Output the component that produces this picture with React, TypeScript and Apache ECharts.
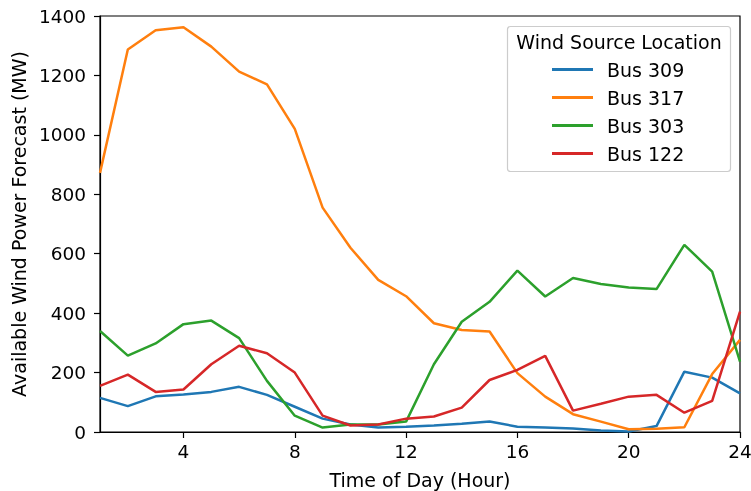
import React, { useEffect, useRef } from "react";
import * as echarts from "echarts";

const hours = [1, 2, 3, 4, 5, 6, 7, 8, 9, 10, 11, 12, 13, 14, 15, 16, 17, 18, 19, 20, 21, 22, 23, 24];
const bus309 = [115, 87, 120, 126, 135, 152, 125, 85, 45, 25, 15, 18, 22, 28, 35, 18, 15, 12, 5, 2, 20, 203, 183, 130];
const bus317 = [872, 1287, 1352, 1362, 1297, 1213, 1170, 1020, 755, 620, 512, 457, 366, 343, 338, 198, 119, 60, 35, 9, 11, 16, 195, 310];
const bus303 = [340, 257, 298, 363, 375, 316, 172, 55, 15, 25, 25, 35, 228, 371, 438, 543, 456, 518, 498, 486, 481, 630, 540, 237];
const bus122 = [155, 193, 135, 143, 228, 290, 265, 200, 55, 22, 25, 45, 52, 82, 175, 209, 256, 72, 95, 119, 125, 65, 105, 405];
const xTicks = [4, 8, 12, 16, 20, 24];
const seriesNames = ["Bus 309", "Bus 317", "Bus 303", "Bus 122"];
const colors = ["#1f77b4", "#ff7f0e", "#2ca02c", "#d62728"];

const FONT = "DejaVu Sans";

export default function App() {
  const ref = useRef<HTMLDivElement>(null);
  useEffect(() => {
    if (!ref.current) return;
    const chart = echarts.init(ref.current, null, { renderer: "svg" });
    const datasets = [bus309, bus317, bus303, bus122];
    chart.setOption({
      animation: false,
      color: colors,
      textStyle: { fontFamily: FONT },
      grid: {
        left: 100,
        right: 11,
        top: 16,
        bottom: 59,
        show: true,
        borderColor: "#000",
        borderWidth: 1.2,
        containLabel: false,
        outerBoundsMode: "none",
      },
      xAxis: {
        type: "value",
        min: 1,
        max: 24,
        name: "Time of Day (Hour)",
        nameLocation: "middle",
        nameGap: 38,
        nameTextStyle: { fontFamily: FONT, fontSize: 19, color: "#000" },
        axisLine: { show: true, lineStyle: { color: "#000", width: 1.2 } },
        axisTick: { show: true, inside: false, length: 6, customValues: xTicks, lineStyle: { color: "#000", width: 1.2 } },
        axisLabel: { customValues: xTicks, fontFamily: FONT, fontSize: 18.5, color: "#000", margin: 10 },
        splitLine: { show: false },
      },
      yAxis: {
        type: "value",
        min: 0,
        max: 1400,
        interval: 200,
        name: "Available Wind Power Forecast (MW)",
        nameLocation: "middle",
        nameGap: 70,
        nameRotate: 90,
        nameTextStyle: { fontFamily: FONT, fontSize: 19, color: "#000" },
        axisLine: { show: true, lineStyle: { color: "#000", width: 1.2 } },
        axisTick: { show: true, inside: false, length: 6, lineStyle: { color: "#000", width: 1.2 } },
        axisLabel: { fontFamily: FONT, fontSize: 18.5, color: "#000", margin: 14, formatter: (v: number) => String(v) },
        splitLine: { show: false },
      },
      legend: {
        orient: "vertical",
        left: 552,
        top: 60,
        padding: 0,
        itemWidth: 41,
        itemHeight: 3,
        itemGap: 9,
        icon: "rect",
        data: seriesNames.map((n, i) => ({ name: n, itemStyle: { color: colors[i] } })),
        textStyle: { fontFamily: FONT, fontSize: 19, lineHeight: 19, color: "#000", padding: [0, 0, 0, 9] },
      },
      graphic: [
        {
          type: "rect",
          z: 0,
          shape: { x: 507.5, y: 26.5, width: 223, height: 145, r: 3 },
          style: { fill: "rgba(255,255,255,0.8)", stroke: "#ccc", lineWidth: 1.2 },
        },
        {
          type: "text",
          x: 619,
          y: 42,
          style: {
            text: "Wind Source Location",
            fontFamily: FONT,
            fontSize: 19,
            fill: "#000",
            align: "center",
            verticalAlign: "middle",
          },
        },
      ],
      series: datasets.map((d, i) => ({
        name: seriesNames[i],
        type: "line",
        data: hours.map((h, j) => [h, d[j]]),
        showSymbol: false,
        symbol: "none",
        lineStyle: { width: 2.5, color: colors[i] },
        itemStyle: { color: colors[i] },
        z: 2 + i,
      })),
    });
    return () => chart.dispose();
  }, []);
  return <div ref={ref} style={{ position: "fixed", left: 0, top: 0, width: 751, height: 491 }} />;
}
